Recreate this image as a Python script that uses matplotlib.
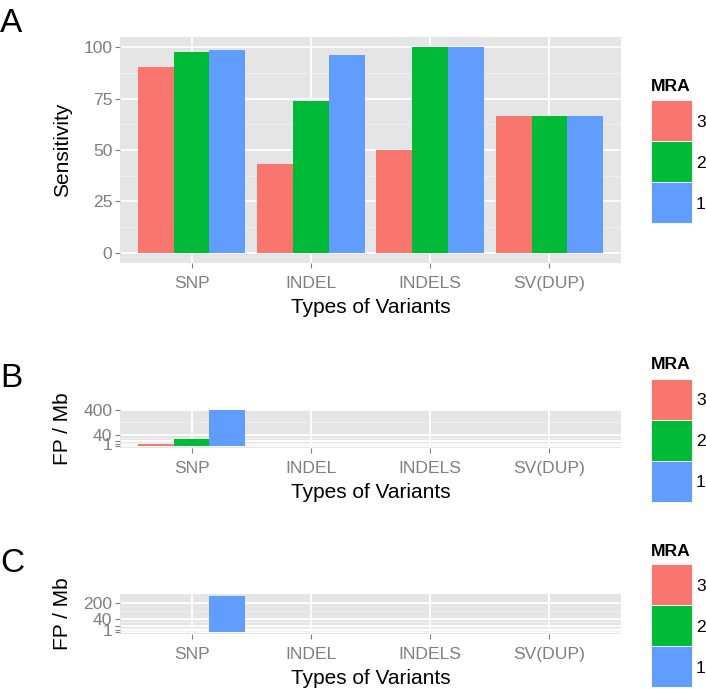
import numpy as np
import matplotlib.pyplot as plt
from matplotlib.patches import Rectangle

plt.rcParams['font.family'] = ['Liberation Sans', 'DejaVu Sans']

categories = ['SNP', 'INDEL', 'INDELS', 'SV(DUP)']
mra_levels = ['3', '2', '1']
mra_colors = ['#F8766D', '#00BA38', '#619CFF']

# panel A: sensitivity (%)
sens_mra3 = [90.5, 43.0, 50.0, 66.7]
sens_mra2 = [97.7, 74.0, 100.0, 66.7]
sens_mra1 = [98.9, 96.0, 100.0, 66.7]
sens_ticks = [0, 25, 50, 75, 100]
sens_labels = ['0', '25', '50', '75', '100']

# panel B: false positives per Mb
fpb_mra3 = [2, 0, 0, 0]
fpb_mra2 = [17, 0, 0, 0]
fpb_mra1 = [400, 0, 0, 0]
fpb_ticks = [0, 1, 10, 40, 400]
fpb_labels = ['', '1', '', '40', '400']

# panel C: false positives per Mb
fpc_mra3 = [0, 0, 0, 0]
fpc_mra2 = [0, 0, 0, 0]
fpc_mra1 = [300, 0, 0, 0]
fpc_ticks = [0, 1, 10, 40, 200]
fpc_labels = ['', '1', '', '40', '200']

W, H = 706, 689
GREY = '#7F7F7F'


def fx(x):
    return x / W


def fy(y):
    return 1 - y / H


def sq_fwd(v):
    v = np.asarray(v, dtype=float)
    return np.sign(v) * np.sqrt(np.abs(v))


def sq_inv(v):
    v = np.asarray(v, dtype=float)
    return np.sign(v) * v ** 2


fig = plt.figure(figsize=(W / 100, H / 100), dpi=100)


def panel(top, bottom, series, ticks, labels, ylim, ylabel, letter, letter_base, sqrt=False):
    x0, x1 = 120, 621
    ax = fig.add_axes([fx(x0), fy(bottom), fx(x1 - x0), (bottom - top) / H])
    ax.set_facecolor('#E5E5E5')
    for s in ax.spines.values():
        s.set_visible(False)
    if sqrt:
        ax.set_yscale('function', functions=(sq_fwd, sq_inv))
        tv = sq_fwd(ticks)
        minor = sq_inv((tv[:-1] + tv[1:]) / 2)
    else:
        minor = (np.array(ticks[:-1]) + np.array(ticks[1:])) / 2
    xpos = np.arange(1, len(categories) + 1)
    for i, vals in enumerate(series):
        ax.bar(xpos + (i - 1) * 0.3, vals, width=0.3, color=mra_colors[i],
               linewidth=0, zorder=3)
    ax.set_xlim(0.4, len(categories) + 0.6)
    ax.set_ylim(*ylim)
    ax.set_xticks(xpos)
    ax.set_xticklabels(categories)
    ax.set_yticks(ticks)
    ax.set_yticklabels(labels)
    ax.set_yticks(minor, minor=True)
    ax.grid(True, which='major', color='white', linewidth=1.3, zorder=1)
    ax.grid(True, which='minor', axis='y', color='#F2F2F2', linewidth=0.6, zorder=0.5)
    ax.set_axisbelow(True)
    ax.tick_params(which='major', direction='out', length=3.6, width=0.8,
                   color=GREY, labelcolor=GREY, labelsize=12.6)
    ax.tick_params(axis='y', which='major', pad=2.0)
    ax.tick_params(axis='x', which='major', pad=6.0)
    ax.tick_params(which='minor', length=0)

    fig.text(fx((x0 + x1) / 2), fy(bottom + 50), 'Types of Variants', ha='center',
             va='baseline', fontsize=15)
    fig.text(fx(62.5), fy((top + bottom) / 2), ylabel, rotation=90, ha='center',
             va='center', fontsize=15)
    fig.text(fx(0), fy(letter_base), letter, ha='left', va='baseline', fontsize=24)
    return ax


def legend(title_base, key_top):
    kx, kw, kh = 650.5, 41, 41
    fig.text(fx(kx), fy(title_base), 'MRA', ha='left', va='baseline',
             fontsize=12.6, fontweight='bold')
    for i, lab in enumerate(mra_levels):
        t = key_top + i * kh
        fig.add_artist(Rectangle((fx(kx), fy(t + kh)), kw / W, kh / H,
                                 transform=fig.transFigure, facecolor=mra_colors[i],
                                 edgecolor='white', linewidth=0.6))
        fig.text(fx(696), fy(t + kh / 2 + 6.2), lab, ha='left', va='baseline',
                 fontsize=12.6, color='black')


panel(37, 263, [sens_mra3, sens_mra2, sens_mra1], sens_ticks, sens_labels,
      (-5, 105), 'Sensitivity', 'A', 32)
legend(91.3, 100)

panel(410, 448, [fpb_mra3, fpb_mra2, fpb_mra1], fpb_ticks, fpb_labels,
      (-0.9, 400), 'FP / Mb', 'B', 387, sqrt=True)
legend(369, 378.5)

panel(594, 634, [fpc_mra3, fpc_mra2, fpc_mra1], fpc_ticks, fpc_labels,
      (-0.75, 331), 'FP / Mb', 'C', 572, sqrt=True)
legend(556.3, 564)

fig.savefig('out.png', dpi=100)
